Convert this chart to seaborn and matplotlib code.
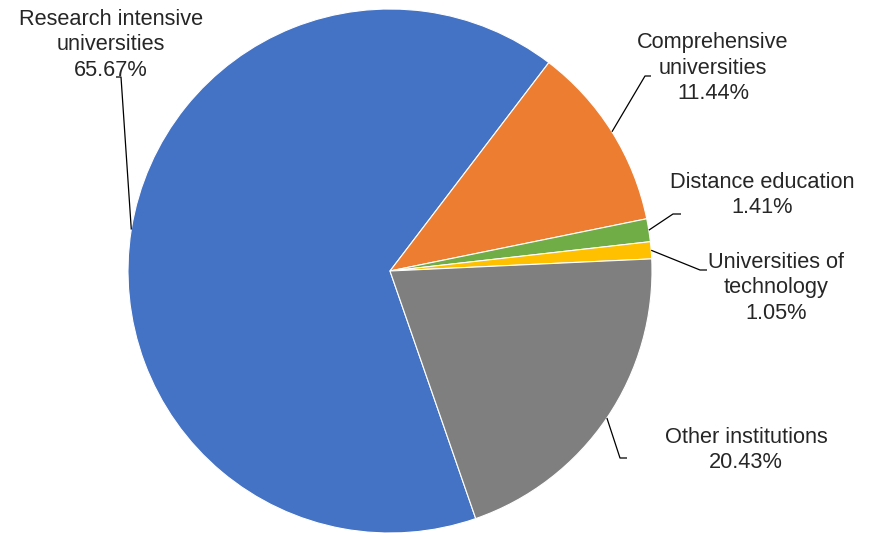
import numpy as np
import matplotlib
matplotlib.use("Agg")
import matplotlib.pyplot as plt
import seaborn as sns

categories = ["Research intensive\nuniversities", "Comprehensive\nuniversities",
              "Distance education", "Universities of\ntechnology", "Other institutions"]
shares = [65.67, 11.44, 1.41, 1.05, 20.43]
colors = ["#4472C4", "#ED7D31", "#70AD47", "#FFC000", "#7F7F7F"]

sns.set_theme(style="white")
plt.rcParams['font.family'] = ['Liberation Sans', 'DejaVu Sans']

W, H = 873, 533
fig = plt.figure(figsize=(W / 100, H / 100), dpi=100)
ax = fig.add_axes([0, 0, 1, 1])
cx, cy, R = 390, H - 271, 262
wedges, _ = ax.pie(shares, colors=colors, startangle=-70.9, counterclock=False,
                   center=(cx, cy), radius=R,
                   wedgeprops=dict(edgecolor='white', linewidth=0.8))
ax.set_xlim(0, W)
ax.set_ylim(0, H)
ax.set_aspect('equal')
ax.axis('off')

# label layout (pixel coords, y from top): text center, elbow, end
label_pos = [(111, 45), (713, 68), (762, 195), (776, 288), (746, 450)]
elbows = [((121, 77), (116, 77)), ((645, 76), (651, 76)), ((673, 214), (681, 214)),
          ((700, 270), (707, 270)), ((620, 458), (627, 458))]

for w, cat, val, (tx, ty), (e1, e2) in zip(wedges, categories, shares, label_pos, elbows):
    mid = np.deg2rad((w.theta1 + w.theta2) / 2)
    px, py = cx + R * np.cos(mid), cy + R * np.sin(mid)
    ax.plot([px, e1[0], e2[0]], [py, H - e1[1], H - e2[1]], color='black', lw=0.9,
            solid_capstyle='butt', zorder=3)
    ax.text(tx, H - ty, f"{cat}\n{val:.2f}%", ha='center', va='center',
            fontsize=15.7, color='#262626', linespacing=1.27)

fig.savefig("out.png", dpi=100)
